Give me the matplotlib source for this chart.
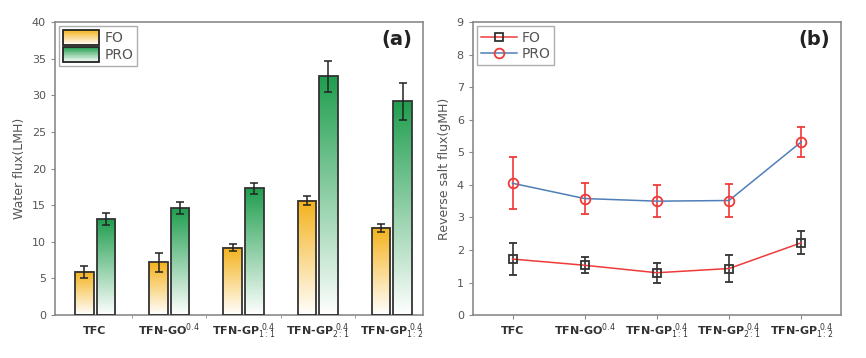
import numpy as np
import matplotlib
matplotlib.use("Agg")
import matplotlib.pyplot as plt
from matplotlib.patches import Rectangle
from matplotlib.lines import Line2D
from matplotlib.legend_handler import HandlerBase
from matplotlib.colors import to_rgb

categories = ["TFC", r"TFN-GO$^{0.4}$", r"TFN-GP$_{1:1}^{\ 0.4}$",
              r"TFN-GP$_{2:1}^{\ 0.4}$", r"TFN-GP$_{1:2}^{\ 0.4}$"]
# water flux (LMH)
fo_flux = [5.9, 7.2, 9.2, 15.6, 11.9]
fo_flux_err = [0.8, 1.3, 0.5, 0.6, 0.6]
pro_flux = [13.1, 14.6, 17.3, 32.6, 29.2]
pro_flux_err = [0.8, 0.8, 0.7, 2.1, 2.5]
# reverse salt flux (gMH)
fo_salt = [1.72, 1.53, 1.30, 1.43, 2.22]
fo_salt_err = [0.48, 0.25, 0.30, 0.40, 0.35]
pro_salt = [4.05, 3.58, 3.50, 3.52, 5.32]
pro_salt_err = [0.80, 0.47, 0.50, 0.50, 0.47]

FO_C = "#F4B21B"
PRO_C = "#1F9E4E"
GRAY = "#555555"
FRAME = "#8a8a8a"


def grad_bar(ax, x, h, w, color):
    c = np.array(to_rgb(color))
    t = np.linspace(0, 1, 256)[:, None]
    img = (1 - t) * np.ones(3) + t * c
    img = img[:, None, :]
    ax.imshow(img, extent=[x - w / 2, x + w / 2, 0, h], origin="lower",
              aspect="auto", zorder=2, interpolation="bilinear")
    r = Rectangle((x - w / 2, 0), w, h, fill=False, ec="#333333", lw=1.3, zorder=3)
    ax.add_patch(r)


class GradHandler(HandlerBase):
    def __init__(self, color):
        super().__init__()
        self.color = np.array(to_rgb(color))

    def create_artists(self, legend, orig, xd, yd, width, height, fontsize, trans):
        arts = []
        n = 20
        for i in range(n):
            t = (i + 0.5) / n
            col = (1 - t) * np.ones(3) + t * self.color
            arts.append(Rectangle((-xd, -yd + height * i / n), width, height / n + 0.2,
                                  fc=col, ec="none", transform=trans))
        arts.append(Rectangle((-xd, -yd), width, height, fill=False, ec="#222222",
                              lw=1.3, transform=trans))
        return arts


fig = plt.figure(figsize=(8.66, 3.58), dpi=100)
ax1 = fig.add_axes([0.0635, 0.12, 0.425, 0.818])
ax2 = fig.add_axes([0.546, 0.12, 0.425, 0.818])

x = np.arange(1, len(categories) + 1)
w = 0.25
off = 0.145
for i in range(len(x)):
    grad_bar(ax1, x[i] - off, fo_flux[i], w, FO_C)
    grad_bar(ax1, x[i] + off, pro_flux[i], w, PRO_C)
ax1.errorbar(x - off, fo_flux, yerr=fo_flux_err, fmt="none", ecolor="#222222",
             capsize=3, elinewidth=1.1, capthick=1.1, zorder=4)
ax1.errorbar(x + off, pro_flux, yerr=pro_flux_err, fmt="none", ecolor="#222222",
             capsize=3, elinewidth=1.1, capthick=1.1, zorder=4)
ax1.set_xlim(0.46, 5.42)
ax1.set_ylim(0, 40)
ax1.set_yticks(np.arange(0, 41, 5))
ax1.set_ylabel("Water flux(LMH)", fontsize=9, color=GRAY)
h1 = [Rectangle((0, 0), 1, 1), Rectangle((0, 0), 1, 1)]
leg1 = ax1.legend(h1, ["FO", "PRO"], loc="upper left",
                  handler_map={h1[0]: GradHandler(FO_C), h1[1]: GradHandler(PRO_C)},
                  fontsize=10, frameon=True, fancybox=False, edgecolor="#999999",
                  handlelength=2.6, handleheight=1.3, borderaxespad=0.3,
                  borderpad=0.25, labelspacing=0.15, handletextpad=0.4)
for t in leg1.get_texts():
    t.set_color(GRAY)
ax1.text(0.97, 0.94, "(a)", transform=ax1.transAxes, ha="right", va="center",
         fontsize=14, fontweight="bold", color="#222222")
ax1.set_xticks([1.5, 2.5, 3.5, 4.5], minor=True)
ax1.tick_params(axis="x", which="minor", length=2, color=FRAME)

# panel (b)
ax2.errorbar(x, fo_salt, yerr=fo_salt_err, color="#F03A3A", lw=1.1,
             marker="s", ms=6, mfc="none", mec="#333333", mew=1.3,
             ecolor="#333333", elinewidth=1.2, capsize=3, capthick=1.2, zorder=3)
ax2.errorbar(x, pro_salt, yerr=pro_salt_err, color="#4F7FB8", lw=1.1,
             marker="o", ms=7, mfc="none", mec="#F03A3A", mew=1.3,
             ecolor="#F03A3A", elinewidth=1.2, capsize=3, capthick=1.2, zorder=3)
ax2.set_xlim(0.45, 5.55)
ax2.set_ylim(0, 9)
ax2.set_yticks(np.arange(0, 10, 1))
ax2.set_ylabel("Reverse salt flux(gMH)", fontsize=9, color=GRAY)
h2 = [Line2D([], [], color="#F03A3A", lw=1.1, marker="s", ms=6, mfc="none",
             mec="#333333", mew=1.3),
      Line2D([], [], color="#4F7FB8", lw=1.1, marker="o", ms=7, mfc="none",
             mec="#F03A3A", mew=1.3)]
leg2 = ax2.legend(h2, ["FO", "PRO"], loc="upper left", fontsize=10, frameon=True,
                  fancybox=False, edgecolor="#999999", handlelength=2.6,
                  borderaxespad=0.3, borderpad=0.3, labelspacing=0.2,
                  handletextpad=0.3)
for t in leg2.get_texts():
    t.set_color(GRAY)
ax2.text(0.97, 0.94, "(b)", transform=ax2.transAxes, ha="right", va="center",
         fontsize=14, fontweight="bold", color="#222222")

for ax in (ax1, ax2):
    ax.set_xticks(x)
    ax.set_xticklabels(categories, fontsize=8, fontweight="bold", color="#333333")
    ax.tick_params(axis="y", labelsize=8, labelcolor=GRAY, color=FRAME, length=3)
    ax.tick_params(axis="x", which="major", color=FRAME, length=3, pad=11)
    for lab in ax.get_xticklabels():
        lab.set_va("baseline")
    for s in ax.spines.values():
        s.set_color(FRAME)
        s.set_linewidth(1.2)
ax1.tick_params(axis="x", which="major", length=0, pad=14)

fig.savefig("out.png", dpi=100)
